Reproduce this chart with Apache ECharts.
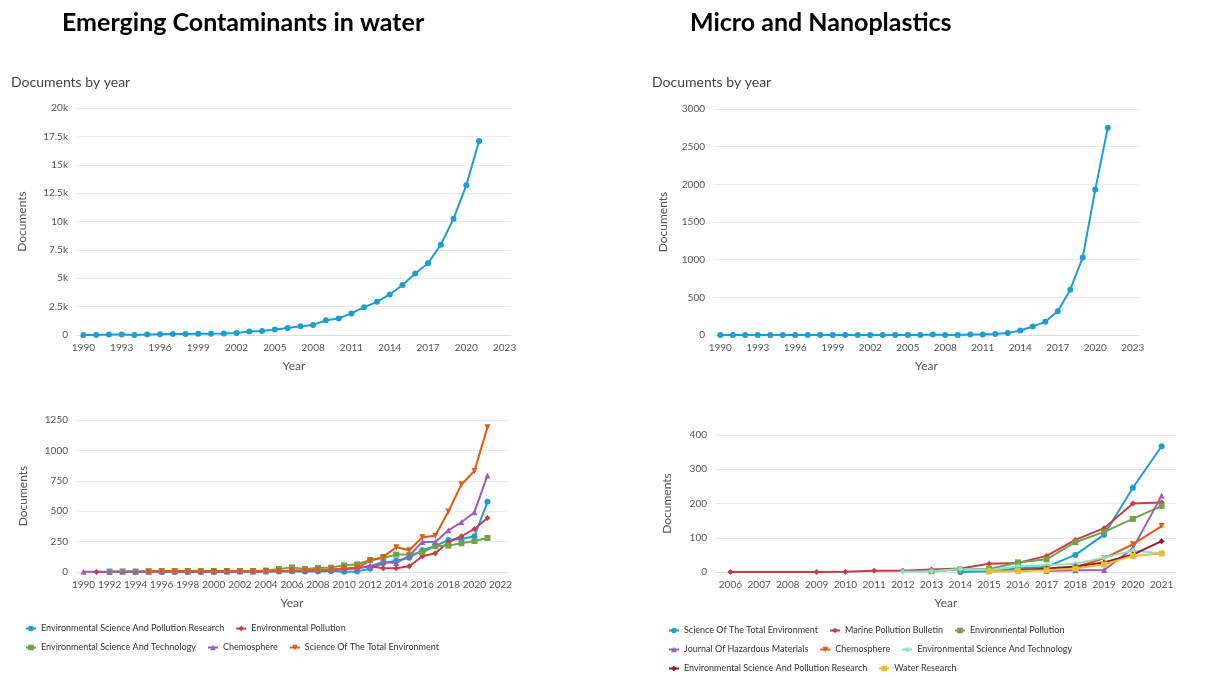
<!DOCTYPE html>
<html>
<head>
<meta charset="utf-8">
<script src="https://cdn.jsdelivr.net/npm/echarts@6/dist/echarts.min.js"></script>
<style>
html,body{margin:0;padding:0;background:#fff;}
#left{position:absolute;left:0;top:0;width:602px;height:676px;}
#right{position:absolute;left:602px;top:0;width:603px;height:676px;}
</style>
</head>
<body>
<div id="left"></div>
<div id="right"></div>
<script>
// ---------- DATA ----------
const yearsTop = ['1990','1991','1992','1993','1994','1995','1996','1997','1998','1999','2000','2001','2002','2003','2004','2005','2006','2007','2008','2009','2010','2011','2012','2013','2014','2015','2016','2017','2018','2019','2020','2021','2022','2023'];
const ecwTotal = [10,10,40,50,10,50,70,80,80,110,120,130,170,300,360,480,620,780,890,1300,1450,1900,2450,2920,3570,4400,5420,6330,7950,10250,13200,17100];
const mnpTotal = [0,0,1,0,0,1,0,0,0,1,0,0,0,0,1,0,1,5,1,1,6,6,12,25,60,112,175,314,602,1030,1930,2750];
const ecwTickLabels = ['0','2.5k','5k','7.5k','10k','12.5k','15k','17.5k','20k'];

const yearsEcwSrc = ['1990','1991','1992','1993','1994','1995','1996','1997','1998','1999','2000','2001','2002','2003','2004','2005','2006','2007','2008','2009','2010','2011','2012','2013','2014','2015','2016','2017','2018','2019','2020','2021','2022'];
const ecwNames = ['Environmental Science And Pollution Research','Environmental Pollution','Environmental Science And Technology','Chemosphere','Science Of The Total Environment'];
const ecwEspr   = [null,null,null,null,2,2,2,3,3,3,3,4,4,5,5,5,6,4,5,8,3,5,27,74,93,118,179,212,264,272,294,577];
const ecwEnvPol = [null,1,1,2,2,2,3,3,3,3,4,4,5,5,6,8,8,10,12,15,25,30,47,30,30,47,129,154,247,294,354,445];
const ecwEst    = [null,null,4,5,4,5,6,6,7,6,6,7,8,8,12,25,38,25,33,36,55,63,99,115,143,143,162,212,217,236,255,280];
const ecwChemo  = [2,null,3,3,3,4,4,4,4,4,4,5,5,5,6,8,10,12,14,16,25,30,50,80,74,135,247,247,343,409,492,794];
const ecwStoten = [null,null,null,null,null,5,6,6,6,6,6,6,7,7,8,9,10,12,15,20,28,35,93,124,203,179,286,299,497,720,830,1190];

const yearsMnpSrc = ['2006','2007','2008','2009','2010','2011','2012','2013','2014','2015','2016','2017','2018','2019','2020','2021'];
const mnpNames = ['Science Of The Total Environment','Marine Pollution Bulletin','Environmental Pollution','Journal Of Hazardous Materials','Chemosphere','Environmental Science And Technology','Environmental Science And Pollution Research','Water Research'];
const mnpStoten = [null,null,null,null,null,null,null,null,0,2,10,15,50,109,246,367];
const mnpMpb    = [0,null,null,0,1,4,4,7,10,24,26,47,94,128,200,203];
const mnpEnvPol = [null,null,null,null,null,null,null,2,7,9,28,37,87,117,155,193];
const mnpJhm    = [null,null,null,null,null,null,null,null,null,null,null,3,5,6,69,223];
const mnpChemo  = [null,null,null,null,null,null,null,null,null,2,3,8,14,40,81,134];
const mnpEst    = [null,null,null,null,null,null,1,2,9,6,17,20,24,42,62,55];
const mnpEspr   = [null,null,null,null,null,null,null,null,null,null,5,10,16,28,51,90];
const mnpWater  = [null,null,null,null,null,null,null,null,null,2,3,5,10,22,47,54];

// ---------- STYLE ----------
const FONT = 'Lato';
const C = {blue:'#1a9fd4', red:'#cc3a44', green:'#76a04a', purple:'#9b5bbf', orange:'#e9570f', mint:'#85e4cc', darkred:'#a3141f', yellow:'#e4c02a'};
const TRI_DOWN = 'path://M0,0L2,0L1,1.8Z';
const plain = v => String(v);

function xAxis(grid, data, interval){
  return {type:'category', gridIndex:grid, data:data, boundaryGap:true,
    name:'Year', nameLocation:'middle', nameGap:25,
    nameTextStyle:{fontFamily:FONT, fontSize:12, color:'#555'},
    axisLine:{lineStyle:{color:'#d9dfea', width:1}}, axisTick:{show:false},
    axisLabel:{interval:interval, fontFamily:FONT, fontSize:10, color:'#555', margin:8}};
}
function yAxis(grid, max, interval, gap, fmt){
  return {type:'value', gridIndex:grid, min:0, max:max, interval:interval,
    name:'Documents', nameLocation:'middle', nameGap:gap,
    nameTextStyle:{fontFamily:FONT, fontSize:12, color:'#555'},
    axisLine:{show:false}, axisTick:{show:false},
    splitLine:{lineStyle:{color:'#e9e9ee'}},
    axisLabel:{fontFamily:FONT, fontSize:10, color:'#555', margin:9, formatter:fmt || plain}};
}
function line(name, data, color, symbol, xi, size){
  return {type:'line', name:name, data:data, xAxisIndex:xi, yAxisIndex:xi,
    symbol:symbol, symbolSize:size||6, showSymbol:true, connectNulls:true,
    lineStyle:{width:2, color:color}, itemStyle:{color:color}, emphasis:{disabled:true}};
}
function legend(names, left, top){
  return {data:names, left:left, top:top, padding:0, itemGap:11, itemWidth:10, itemHeight:7,
    textStyle:{fontFamily:FONT, fontSize:9, color:'#333'}, selectedMode:false};
}
function titles(main, mainLeft, subLeft){
  return [
    {text:main, left:mainLeft, top:10, padding:0, textStyle:{fontFamily:FONT, fontSize:25, fontWeight:'bold', color:'#000'}},
    {text:'Documents by year', left:subLeft, top:75, padding:0, textStyle:{fontFamily:FONT, fontSize:14, fontWeight:'normal', color:'#444'}}
  ];
}

// ---------- LEFT ----------
const left = echarts.init(document.getElementById('left'), null, {renderer:'canvas'});
left.setOption({
  animation:false,
  title: titles('Emerging Contaminants in water', 62, 11),
  grid:[{left:77, right:602-511, top:108, bottom:676-335},
        {left:77, right:602-507, top:420, bottom:676-572}],
  xAxis:[xAxis(0, yearsTop, 2), xAxis(1, yearsEcwSrc, 1)],
  yAxis:[yAxis(0, 20000, 2500, 49, v => ecwTickLabels[Math.round(v/2500)]),
         yAxis(1, 1250, 250, 48)],
  legend:[legend(ecwNames.slice(0,2), 25, 624), legend(ecwNames.slice(2), 25, 643)],
  series:[
    line('Documents', ecwTotal, C.blue, 'circle', 0, 6),
    line(ecwNames[0], ecwEspr, C.blue, 'circle', 1),
    line(ecwNames[1], ecwEnvPol, C.red, 'diamond', 1),
    line(ecwNames[2], ecwEst, C.green, 'rect', 1),
    line(ecwNames[3], ecwChemo, C.purple, 'triangle', 1),
    line(ecwNames[4], ecwStoten, C.orange, TRI_DOWN, 1)
  ]
});

// ---------- RIGHT ----------
const right = echarts.init(document.getElementById('right'), null, {renderer:'canvas'});
right.setOption({
  animation:false,
  title: titles('Micro and Nanoplastics', 88, 50),
  grid:[{left:112, right:603-537, top:109, bottom:676-335},
        {left:114, right:29, top:435, bottom:676-572}],
  xAxis:[xAxis(0, yearsTop, 2), xAxis(1, yearsMnpSrc, 0)],
  yAxis:[yAxis(0, 3000, 500, 45), yAxis(1, 400, 100, 43)],
  legend:[legend(mnpNames.slice(0,3), 66, 626), legend(mnpNames.slice(3,6), 66, 645), legend(mnpNames.slice(6), 66, 664)],
  series:[
    line('Documents', mnpTotal, C.blue, 'circle', 0, 6),
    line(mnpNames[0], mnpStoten, C.blue, 'circle', 1),
    line(mnpNames[1], mnpMpb, C.red, 'diamond', 1),
    line(mnpNames[2], mnpEnvPol, C.green, 'rect', 1),
    line(mnpNames[3], mnpJhm, C.purple, 'triangle', 1),
    line(mnpNames[4], mnpChemo, C.orange, TRI_DOWN, 1),
    line(mnpNames[5], mnpEst, C.mint, 'diamond', 1),
    line(mnpNames[6], mnpEspr, C.darkred, 'diamond', 1),
    line(mnpNames[7], mnpWater, C.yellow, 'rect', 1)
  ]
});
</script>
</body>
</html>
